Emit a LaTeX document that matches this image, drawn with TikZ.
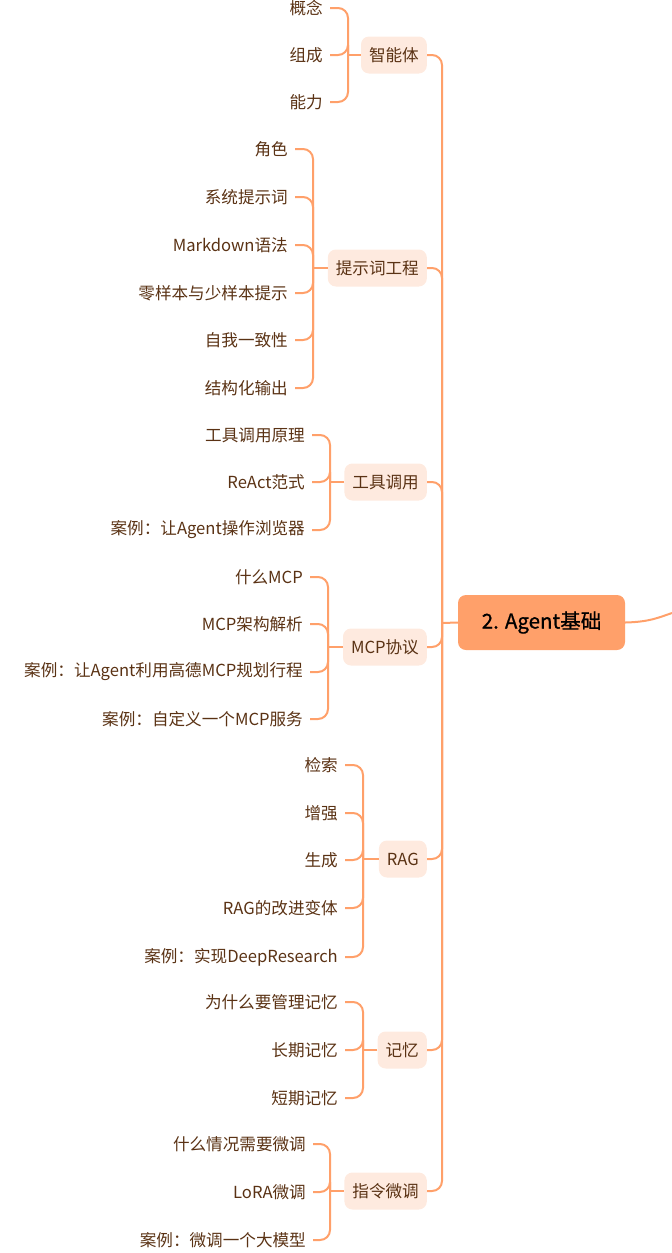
\documentclass[tikz,border=0pt]{standalone}
\usepackage{fontspec}
\setmainfont{Noto Sans CJK SC}
\newfontfamily\rootfont[FakeBold=0.8]{Noto Sans CJK SC}
\definecolor{linkorange}{HTML}{FFA06A}
\definecolor{catfill}{HTML}{FEEADF}
\definecolor{leafbrown}{HTML}{5A3214}

\begin{document}
\begin{tikzpicture}[x=1bp, y=-1bp,
  branch/.style={draw=linkorange, line width=2bp, rounded corners=10bp},
  rootbox/.style={fill=linkorange, rounded corners=8bp, minimum width=167bp,
    minimum height=55bp, font=\rootfont\fontsize{20.5bp}{22bp}\selectfont, text=black},
  catbox/.style={fill=catfill, rounded corners=8bp, minimum height=37bp,
    inner xsep=8bp, anchor=east, font=\fontsize{16.6bp}{18bp}\selectfont, text=leafbrown},
  leaf/.style={anchor=east, inner xsep=7bp, inner ysep=2bp,
    font=\fontsize{16.6bp}{18bp}\selectfont, text=leafbrown}]
  \useasboundingbox (0,0) rectangle (672,1253);

  % root and trunk
  \node[rootbox] (root) at (541.5,622.5) {2. Agent基础};
  \coordinate (trunk) at (442,623);
  \coordinate (out) at (672,613);
  \draw[branch] (root.east) .. controls (650,622) and (660,617) .. (out);
  \draw[branch] (root.west) -- (trunk);

  \node[catbox] (agent) at (427,55) {智能体};
  \node[catbox] (prompt) at (427,268) {提示词工程};
  \node[catbox] (tools) at (427,482) {工具调用};
  \node[catbox] (mcp) at (427,647) {MCP协议};
  \node[catbox] (rag) at (427,859) {RAG};
  \node[catbox] (memory) at (427,1050) {记忆};
  \node[catbox] (tuning) at (427,1191) {指令微调};

  \draw[branch] (trunk) |- (agent.east);
  \draw[branch] (trunk) |- (prompt.east);
  \draw[branch] (trunk) |- (tools.east);
  \draw[branch] (trunk) |- (mcp.east);
  \draw[branch] (trunk) |- (rag.east);
  \draw[branch] (trunk) |- (memory.east);
  \draw[branch] (trunk) |- (tuning.east);

  % 智能体
  \coordinate (agentB) at (348,55);
  \node[leaf] (agent1) at (330,8) {概念};
  \node[leaf] (agent2) at (330,55) {组成};
  \node[leaf] (agent3) at (330,102) {能力};
  \draw[branch] (agent.west) -- (agentB);
  \draw[branch] (agentB) |- (agent1.east);
  \draw[branch] (agentB) |- (agent2.east);
  \draw[branch] (agentB) |- (agent3.east);

  % 提示词工程
  \coordinate (promptB) at (313,268);
  \node[leaf] (prompt1) at (295,149) {角色};
  \node[leaf] (prompt2) at (295,197) {系统提示词};
  \node[leaf] (prompt3) at (295,245) {Markdown语法};
  \node[leaf] (prompt4) at (295,293) {零样本与少样本提示};
  \node[leaf] (prompt5) at (295,340) {自我一致性};
  \node[leaf] (prompt6) at (295,388) {结构化输出};
  \draw[branch] (prompt.west) -- (promptB);
  \draw[branch] (promptB) |- (prompt1.east);
  \draw[branch] (promptB) |- (prompt2.east);
  \draw[branch] (promptB) |- (prompt3.east);
  \draw[branch] (promptB) |- (prompt4.east);
  \draw[branch] (promptB) |- (prompt5.east);
  \draw[branch] (promptB) |- (prompt6.east);

  % 工具调用
  \coordinate (toolsB) at (330,482);
  \node[leaf] (tools1) at (312,435) {工具调用原理};
  \node[leaf] (tools2) at (312,482) {ReAct范式};
  \node[leaf] (tools3) at (312,530) {案例：让Agent操作浏览器};
  \draw[branch] (tools.west) -- (toolsB);
  \draw[branch] (toolsB) |- (tools1.east);
  \draw[branch] (toolsB) |- (tools2.east);
  \draw[branch] (toolsB) |- (tools3.east);

  % MCP协议
  \coordinate (mcpB) at (328,647);
  \node[leaf] (mcp1) at (310,577) {什么MCP};
  \node[leaf] (mcp2) at (310,624) {MCP架构解析};
  \node[leaf] (mcp3) at (310,672) {案例：让Agent利用高德MCP规划行程};
  \node[leaf] (mcp4) at (310,719) {案例：自定义一个MCP服务};
  \draw[branch] (mcp.west) -- (mcpB);
  \draw[branch] (mcpB) |- (mcp1.east);
  \draw[branch] (mcpB) |- (mcp2.east);
  \draw[branch] (mcpB) |- (mcp3.east);
  \draw[branch] (mcpB) |- (mcp4.east);

  % RAG
  \coordinate (ragB) at (363,859);
  \node[leaf] (rag1) at (345,765) {检索};
  \node[leaf] (rag2) at (345,813) {增强};
  \node[leaf] (rag3) at (345,860) {生成};
  \node[leaf] (rag4) at (345,908) {RAG的改进变体};
  \node[leaf] (rag5) at (345,957) {案例：实现DeepResearch};
  \draw[branch] (rag.west) -- (ragB);
  \draw[branch] (ragB) |- (rag1.east);
  \draw[branch] (ragB) |- (rag2.east);
  \draw[branch] (ragB) |- (rag3.east);
  \draw[branch] (ragB) |- (rag4.east);
  \draw[branch] (ragB) |- (rag5.east);

  % 记忆
  \coordinate (memoryB) at (363,1050);
  \node[leaf] (memory1) at (345,1002) {为什么要管理记忆};
  \node[leaf] (memory2) at (345,1050) {长期记忆};
  \node[leaf] (memory3) at (345,1098) {短期记忆};
  \draw[branch] (memory.west) -- (memoryB);
  \draw[branch] (memoryB) |- (memory1.east);
  \draw[branch] (memoryB) |- (memory2.east);
  \draw[branch] (memoryB) |- (memory3.east);

  % 指令微调
  \coordinate (tuningB) at (330,1191);
  \node[leaf] (tuning1) at (313,1144) {什么情况需要微调};
  \node[leaf] (tuning2) at (313,1192) {LoRA微调};
  \node[leaf] (tuning3) at (313,1240) {案例：微调一个大模型};
  \draw[branch] (tuning.west) -- (tuningB);
  \draw[branch] (tuningB) |- (tuning1.east);
  \draw[branch] (tuningB) |- (tuning2.east);
  \draw[branch] (tuningB) |- (tuning3.east);
\end{tikzpicture}
\end{document}
